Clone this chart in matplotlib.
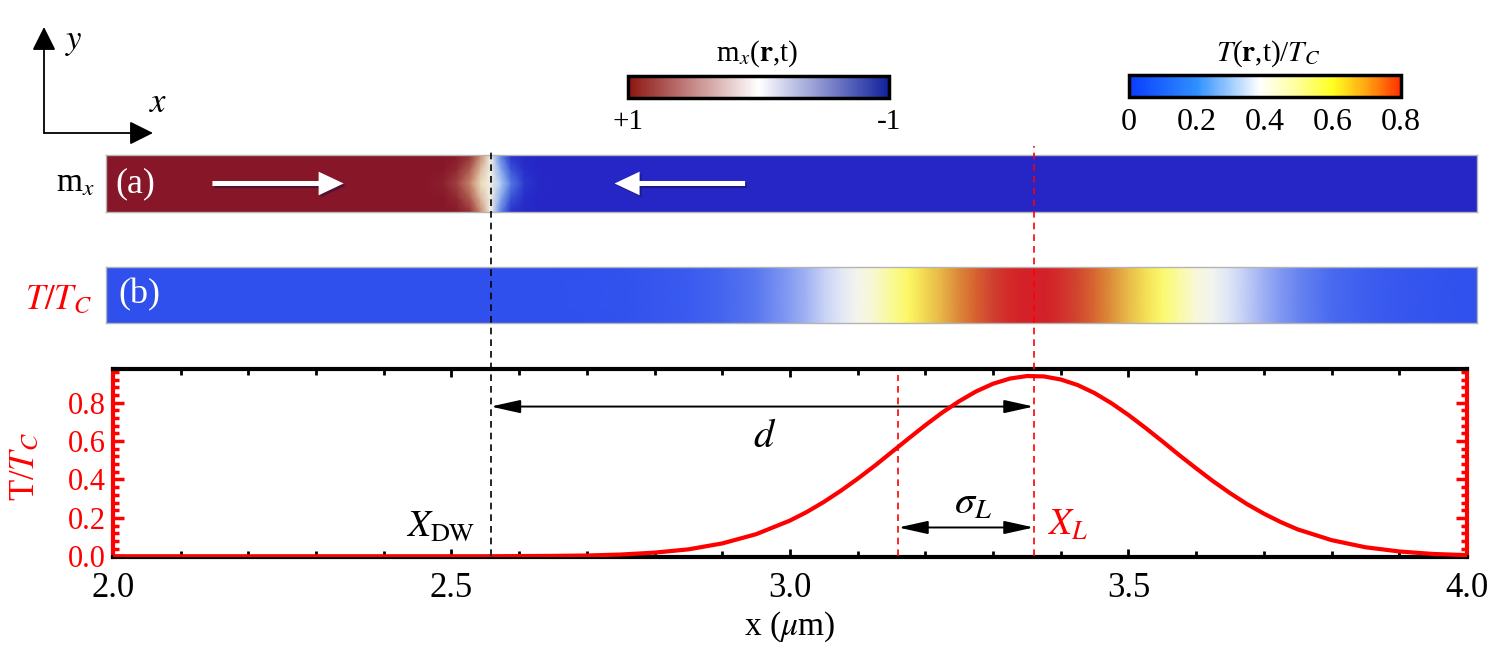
"""Domain wall strip, laser temperature strip and T/Tc profile."""

import numpy as np
import matplotlib
matplotlib.use("Agg")
import matplotlib.pyplot as plt
import matplotlib.patheffects as pe
from matplotlib.cm import ScalarMappable
from matplotlib.colors import LinearSegmentedColormap, Normalize
from matplotlib.patches import FancyArrowPatch
from matplotlib.ticker import MultipleLocator, FormatStrFormatter

plt.rcParams['font.family'] = ['Liberation Serif', 'DejaVu Serif']
plt.rcParams['mathtext.fontset'] = 'stix'

# T/Tc profile (x in um)
X_UM = [2.00, 2.05, 2.10, 2.15, 2.20, 2.25, 2.30, 2.35, 2.40, 2.45, 2.50, 2.55,
        2.60, 2.65, 2.70, 2.75, 2.80, 2.85, 2.90, 2.95, 3.00, 3.025, 3.05, 3.075,
        3.10, 3.125, 3.15, 3.175, 3.20, 3.225, 3.25, 3.275, 3.30, 3.325, 3.35,
        3.375, 3.40, 3.425, 3.45, 3.475, 3.50, 3.525, 3.55, 3.575, 3.60, 3.625,
        3.65, 3.675, 3.70, 3.725, 3.75, 3.80, 3.85, 3.90, 3.95, 4.00]
T_TC = [0.0, 0.0, 0.0, 0.0, 0.0, 0.0, 0.0, 0.0, 0.0, 0.0, 0.0, 0.0,
        0.001, 0.002, 0.004, 0.009, 0.019, 0.036, 0.067, 0.115, 0.186, 0.231, 0.283, 0.341,
        0.404, 0.471, 0.542, 0.613, 0.683, 0.749, 0.808, 0.859, 0.899, 0.926, 0.939,
        0.937, 0.921, 0.892, 0.850, 0.797, 0.736, 0.669, 0.599, 0.527, 0.458, 0.391,
        0.329, 0.272, 0.222, 0.178, 0.140, 0.084, 0.047, 0.025, 0.012, 0.006]

X_DW = 2.558     # domain wall position
X_L = 3.36       # laser centre
SIGMA_L = 0.20   # laser width

# m_x across the wall: offsets from X_DW (um), one row per position across the strip
DW_OFFSETS = [-0.10, -0.07, -0.05, -0.03, -0.015, 0.0, 0.015, 0.03, 0.05, 0.07, 0.10]
MX_ROWS = [
    [1.0, 1.0, 0.98, 0.88, 0.55, 0.0, -0.55, -0.90, -0.98, -1.0, -1.0],
    [1.0, 0.99, 0.92, 0.70, 0.40, 0.0, -0.40, -0.72, -0.93, -0.99, -1.0],
    [1.0, 0.96, 0.82, 0.55, 0.28, 0.0, -0.28, -0.58, -0.84, -0.97, -1.0],
    [1.0, 0.99, 0.92, 0.70, 0.40, 0.0, -0.40, -0.72, -0.93, -0.99, -1.0],
    [1.0, 1.0, 0.98, 0.88, 0.55, 0.0, -0.55, -0.90, -0.98, -1.0, -1.0],
]
ROW_Y = [0.0, 0.25, 0.5, 0.75, 1.0]

STRIP_X = (1.99, 4.015)

# colour maps
mx_strip_cmap = LinearSegmentedColormap.from_list('mx_strip', [
    (0.0, '#2626c6'), (0.1, '#2a40d0'), (0.25, '#6a90e8'), (0.375, '#b8d4f4'),
    (0.5, '#f2f0e6'), (0.65, '#e8d8b8'), (0.8, '#c07860'), (1.0, '#861628')])
mx_bar_cmap = LinearSegmentedColormap.from_list('mx_bar', [
    (0.0, '#10209c'), (0.5, '#ffffff'), (1.0, '#8c1410')])
T_PEAK = 0.94
t_nodes = [(0.00, '#3050ee'), (0.10, '#4f70f0'), (0.20, '#90a4f2'), (0.30, '#d0daf6'),
           (0.37, '#f0f2f6'), (0.45, '#f8f8e0'), (0.55, '#fafa90'), (0.62, '#fcf860'),
           (0.70, '#f0d050'), (0.78, '#e0a040'), (0.85, '#d86830'), (0.90, '#d04030'),
           (0.94, '#d42028')]
t_strip_cmap = LinearSegmentedColormap.from_list(
    't_strip', [(v / T_PEAK, c) for v, c in t_nodes])
t_bar_cmap = LinearSegmentedColormap.from_list('t_bar', [
    (0.0, '#0a3cff'), (0.25, '#3090ff'), (0.48, '#ffffff'), (0.62, '#ffff9a'),
    (0.75, '#ffff20'), (0.88, '#ffa010'), (1.0, '#ff3000')])

fig = plt.figure(figsize=(15, 6.6), dpi=100)

# ---- strip (a): m_x ----
ax_a = fig.add_axes([0.0707, 0.6788, 0.914, 0.0864])
xa = [STRIP_X[0]] + [X_DW + o for o in DW_OFFSETS] + [STRIP_X[1]]
ca = np.array([[r[0]] + r + [r[-1]] for r in MX_ROWS])
XA, YA = np.meshgrid(xa, ROW_Y)
ax_a.pcolormesh(XA, YA, ca, cmap=mx_strip_cmap, vmin=-1, vmax=1, shading='gouraud')
ax_a.set_xlim(*STRIP_X)
ax_a.set_ylim(0, 1)

shadow = [pe.withSimplePatchShadow(offset=(1.5, -1.5), shadow_rgbFace='#101040', alpha=0.45)]
for tail, tip in [(2.143, 2.345), (2.938, 2.737)]:
    arr = FancyArrowPatch((tail, 0.5), (tip, 0.5),
                          arrowstyle='simple,head_length=0.9,head_width=0.85,tail_width=0.18',
                          mutation_scale=20, color='white', lw=0, path_effects=shadow)
    ax_a.add_patch(arr)
ax_a.text(0.007, 0.5, '(a)', transform=ax_a.transAxes, color='white',
          fontsize=26, ha='left', va='center')

# ---- strip (b): T/Tc ----
ax_b = fig.add_axes([0.0707, 0.5106, 0.914, 0.0848])
xb = [STRIP_X[0]] + X_UM + [STRIP_X[1]]
cb_vals = [T_TC[0]] + T_TC + [T_TC[-1]]
XB, YB = np.meshgrid(xb, [0, 1])
ax_b.pcolormesh(XB, YB, np.array([cb_vals, cb_vals]), cmap=t_strip_cmap,
                vmin=0, vmax=T_PEAK, shading='gouraud')
ax_b.set_xlim(*STRIP_X)
ax_b.set_ylim(0, 1)
ax_b.text(0.009, 0.5, '(b)', transform=ax_b.transAxes, color='white',
          fontsize=26, ha='left', va='center')

for ax in (ax_a, ax_b):
    ax.set_xticks([])
    ax.set_yticks([])
    for sp in ax.spines.values():
        sp.set_color('#b4b4b4')
        sp.set_linewidth(1.0)

fig.text(0.0633, 0.7227, r'm$_x$', fontsize=24, ha='right', va='center')
fig.text(0.0613, 0.545, r'$T/T_C$', fontsize=25, ha='right', va='center', color='red')

# ---- colour bars ----
cax1 = fig.add_axes([0.4187, 0.8515, 0.174, 0.0333])
cb1 = fig.colorbar(ScalarMappable(Normalize(-1, 1), mx_bar_cmap), cax=cax1,
                   orientation='horizontal')
cax1.invert_xaxis()
cb1.set_ticks([1, -1])
cb1.set_ticklabels(['+1', '-1'])
cax1.tick_params(length=0, pad=8, labelsize=21)
cb1.outline.set_linewidth(2.5)
fig.text(757 / 1500, 1 - 61 / 660, r'm$_x$($\mathbf{r}$,t)', fontsize=21,
         ha='center', va='baseline')

cax2 = fig.add_axes([0.7527, 0.853, 0.1813, 0.0333])
cb2 = fig.colorbar(ScalarMappable(Normalize(0, 0.8), t_bar_cmap), cax=cax2,
                   orientation='horizontal')
cb2.set_ticks([0, 0.2, 0.4, 0.6, 0.8])
cb2.set_ticklabels(['0', '0.2', '0.4', '0.6', '0.8'])
cax2.tick_params(length=0, pad=8, labelsize=23)
cb2.outline.set_linewidth(2.5)
fig.text(1268 / 1500, 1 - 61 / 660, r'$T$($\mathbf{r}$,t)/$T_C$', fontsize=21,
         ha='center', va='baseline')

# ---- coordinate axes sketch ----
origin = (44 / 1500, 1 - 133 / 660)
for tip in [(44 / 1500, 1 - 27 / 660), (153 / 1500, 1 - 133 / 660)]:
    fig.add_artist(FancyArrowPatch(origin, tip, transform=fig.transFigure,
                                   arrowstyle='-|>,head_length=0.4,head_width=0.2',
                                   mutation_scale=36, lw=1.3, color='black',
                                   shrinkA=0, shrinkB=0))
fig.text(74 / 1500, 1 - 42 / 660, r'$y$', fontsize=25, ha='center', va='center')
fig.text(158 / 1500, 1 - 104 / 660, r'$x$', fontsize=25, ha='center', va='center')

# ---- lower panel: T/Tc profile ----
ax = fig.add_axes([0.0753, 0.156, 0.9027, 0.285])
ax.plot(X_UM, T_TC, color='red', lw=3, zorder=4)
ax.set_xlim(2.0, 4.0)
ax.set_ylim(-0.004, 0.976)

# dashed guide lines, running up through the strips
ax.plot([X_DW, X_DW], [0, 2.12], color='black', ls=(0, (4, 3)), lw=1.2,
        clip_on=False, zorder=5)
ax.plot([X_L, X_L], [0, 2.14], color='red', ls=(0, (4, 3)), lw=1.2,
        clip_on=False, zorder=5)
ax.plot([X_L - SIGMA_L, X_L - SIGMA_L], [0, 0.945], color='red', ls=(0, (4, 3)),
        lw=1.2, zorder=3)

arrow_kw = dict(arrowstyle='<|-|>,head_length=1.8,head_width=0.4', mutation_scale=10,
                color='black', lw=1.4, shrinkA=0, shrinkB=0)
ax.annotate('', xy=(X_L, 0.78), xytext=(X_DW, 0.78), arrowprops=arrow_kw)
ax.annotate('', xy=(X_L, 0.15), xytext=(X_L - SIGMA_L, 0.15), arrowprops=arrow_kw)

ax.text(2.963, 0.62, r'$d$', fontsize=29, ha='center', va='center')
ax.text(3.27, 0.27, r'$\sigma_L$', fontsize=29, ha='center', va='center')
ax.text(3.38, 0.16, r'$X_L$', fontsize=27, ha='left', va='center', color='red')
ax.text(2.535, 0.15, r'$X_{\rm DW}$', fontsize=27, ha='right', va='center')

ax.xaxis.set_major_locator(MultipleLocator(0.5))
ax.xaxis.set_minor_locator(MultipleLocator(0.1))
ax.xaxis.set_major_formatter(FormatStrFormatter('%.1f'))
ax.yaxis.set_major_locator(MultipleLocator(0.2))
ax.yaxis.set_minor_locator(MultipleLocator(0.04))
ax.yaxis.set_major_formatter(FormatStrFormatter('%.1f'))
ax.set_yticks([0, 0.2, 0.4, 0.6, 0.8])

ax.tick_params(axis='x', which='both', direction='in', top=True, colors='black',
               labelsize=25, pad=11)
ax.tick_params(axis='x', which='major', length=6, width=2)
ax.tick_params(axis='x', which='minor', length=4, width=2)
ax.tick_params(axis='y', which='both', direction='in', right=True, colors='red',
               labelsize=22, pad=5)
ax.tick_params(axis='y', which='major', length=8, width=2.5)
ax.tick_params(axis='y', which='minor', length=4.5, width=2.5)

for side in ('top', 'bottom'):
    ax.spines[side].set_color('black')
    ax.spines[side].set_linewidth(3)
for side in ('left', 'right'):
    ax.spines[side].set_color('red')
    ax.spines[side].set_linewidth(3)

ax.set_xlabel(r'x ($\mu$m)', fontsize=24, labelpad=3)
ax.set_ylabel(r'T/$T_C$', fontsize=25, color='red')
ax.yaxis.set_label_coords(-0.052, 0.48)

fig.savefig('out.png', dpi=100)
